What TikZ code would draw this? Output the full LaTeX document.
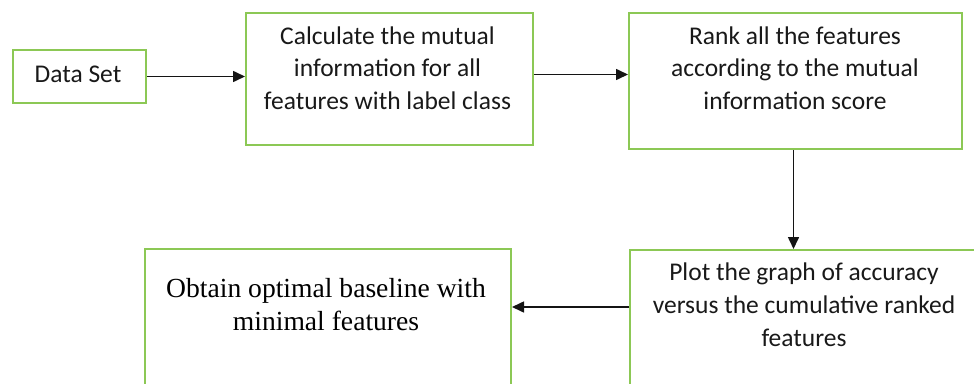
\documentclass[tikz,border=0pt]{standalone}
\usepackage{fontspec}
\setmainfont{Carlito}
\newfontfamily\timesfont{Liberation Serif}
\usetikzlibrary{arrows.meta}
\definecolor{boxgreen}{RGB}{140,200,85}
\definecolor{arrowgray}{RGB}{20,20,20}
\newcommand\mylines[1]{\begin{tabular}[t]{@{}c@{}}#1\end{tabular}}
\tikzset{
  box/.style={draw=boxgreen, line width=2pt, rectangle, inner sep=0pt, anchor=north west},
  txt/.style={inner sep=0pt, anchor=base, text=black!90, font=\fontsize{25.5}{32.8}\selectfont},
  serif/.style={inner sep=0pt, anchor=base, text=black, font=\timesfont\fontsize{27.6}{33.5}\selectfont},
  arr/.style={draw=arrowgray, line width=1.6pt, -{Triangle[length=12pt,width=11pt]}}
}
\begin{document}
\begin{tikzpicture}[x=1pt,y=-1pt]
\useasboundingbox (0,0) rectangle (974,383);
\clip (0,0) rectangle (974,383);
% boxes
\node[box, minimum width=133pt, minimum height=53pt] (b1) at (12,49) {};
\node[box, minimum width=287pt, minimum height=132pt] (b2) at (245,12) {};
\node[box, minimum width=333pt, minimum height=136pt] (b3) at (628,12) {};
\node[box, minimum width=360pt, minimum height=160pt] (b4) at (629,249) {};
\node[box, minimum width=366pt, minimum height=160pt] (b5) at (144,248) {};
% texts
\node[txt] (t1) at (78,82) {Data Set};
\node[txt] (t2) at (387.5,44) {\mylines{Calculate the mutual\\information for all\\features with label class}};
\node[txt] (t3) at (795,44) {\mylines{Rank all the features\\according to the mutual\\information score}};
\node[txt] (t4) at (804,280.5) {\mylines{Plot the graph of accuracy\\versus the cumulative ranked\\features}};
\node[serif] (t5) at (326,297) {\mylines{Obtain optimal baseline with\\minimal features}};
% connectors
\draw[arr] (b1.east) -- (b1.east -| b2.west);
\draw[arr] ([yshift=4.5pt]b2.east) -- ([yshift=4.5pt]b2.east -| b3.west);
\draw[arr] ([xshift=-2pt]b3.south) -- ([xshift=-2pt]b3.south |- b4.north);
\draw[arr] (b4.west |- 0,307) -- (b5.east |- 0,307);
\end{tikzpicture}
\end{document}
